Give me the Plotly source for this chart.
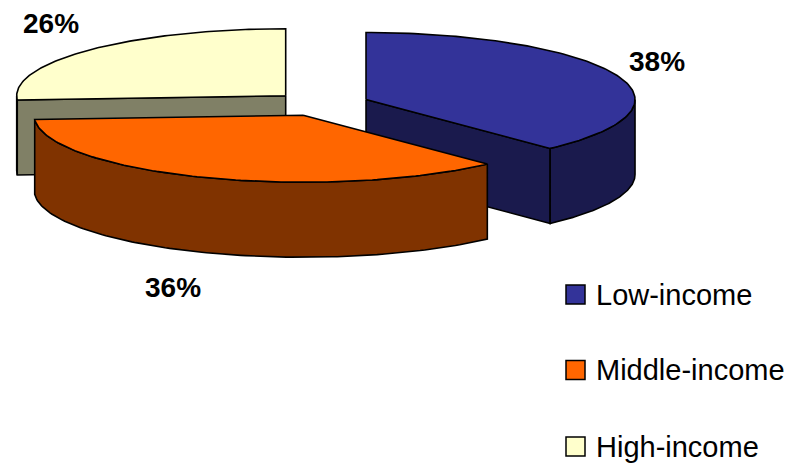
import numpy as np
import plotly.graph_objects as go

# Income group shares (percent)
categories = ["Low-income", "Middle-income", "High-income"]
shares = [38, 36, 26]

# Face colours and darker side colours per slice
top_colors = ["#333399", "#ff6600", "#ffffcc"]
side_colors = ["#1a1a4d", "#803300", "#808066"]

# Pie geometry in pixel-like axis units
CX, CY = 321, 104      # pie centre
RX, RY = 269, 67       # projected ellipse radii
DEPTH = 75             # slab thickness
EXPLODE = 0.18         # explosion as a fraction of radius
W, H = 795, 463

FONT = "Arial, Liberation Sans, sans-serif"


def pt(theta, ox, oy, dz=0.0):
    t = np.radians(theta)
    return ox + RX * np.sin(t), oy - RY * np.cos(t) + dz


def arc(a0, a1, ox, oy, dz=0.0, n=120):
    th = np.linspace(a0, a1, n)
    return pt(th, ox, oy, dz)


fig = go.Figure()


def poly(xs, ys, color):
    fig.add_trace(go.Scatter(
        x=list(xs), y=list(ys), mode="lines", fill="toself",
        fillcolor=color, line=dict(color="black", width=1.6),
        hoverinfo="skip", showlegend=False))


# Slice angles measured clockwise from 12 o'clock
total = float(sum(shares))
bounds = []
start = 0.0
for s in shares:
    end = start + 360.0 * s / total
    bounds.append((start, end))
    start = end

slices = []
for i, (a0, a1) in enumerate(bounds):
    b = np.radians((a0 + a1) / 2)
    ox = CX + EXPLODE * RX * np.sin(b)
    oy = CY - EXPLODE * RY * np.cos(b)
    slices.append(dict(i=i, a0=a0, a1=a1, ox=ox, oy=oy, depth_key=np.cos(b)))

# Paint from the back of the pie to the front
for s in sorted(slices, key=lambda d: -d["depth_key"]):
    i, a0, a1, ox, oy = s["i"], s["a0"], s["a1"], s["ox"], s["oy"]
    side = side_colors[i]
    # radial wall at the starting edge
    if np.cos(np.radians(a0 - 90)) < -1e-9:
        x1, y1 = pt(a0, ox, oy)
        poly([ox, x1, x1, ox, ox], [oy, y1, y1 + DEPTH, oy + DEPTH, oy], side)
    # radial wall at the ending edge
    if np.cos(np.radians(a1 + 90)) < -1e-9:
        x1, y1 = pt(a1, ox, oy)
        poly([ox, x1, x1, ox, ox], [oy, y1, y1 + DEPTH, oy + DEPTH, oy], side)
    # front-facing part of the rim
    lo, hi = max(a0, 90.0), min(a1, 270.0)
    if hi > lo:
        tx, ty = arc(lo, hi, ox, oy)
        bx, by = arc(hi, lo, ox, oy, DEPTH)
        poly(np.concatenate([tx, bx, tx[:1]]), np.concatenate([ty, by, ty[:1]]), side)
    # top face
    tx, ty = arc(a0, a1, ox, oy)
    poly(np.concatenate([[ox], tx, [ox]]), np.concatenate([[oy], ty, [oy]]), top_colors[i])

# Percentage labels
label_pos = [(657, 61), (173, 287), (51, 23)]
annotations = []
for i, s in enumerate(shares):
    lx, ly = label_pos[i]
    annotations.append(dict(
        x=lx, y=ly, xref="x", yref="y", text=f"<b>{s}%</b>", showarrow=False,
        xanchor="center", yanchor="middle",
        font=dict(family=FONT, size=28, color="black")))

# Legend: keys and names
legend_rows = [294.5, 370, 446.5]
shapes = []
for i, name in enumerate(categories):
    yc = legend_rows[i]
    shapes.append(dict(type="rect", xref="x", yref="y", x0=566, x1=585,
                       y0=yc - 9.5, y1=yc + 9.5, fillcolor=top_colors[i],
                       line=dict(color="black", width=1.5)))
    annotations.append(dict(
        x=594, y=yc, xref="x", yref="y", text=name, showarrow=False,
        xanchor="left", yanchor="middle",
        font=dict(family=FONT, size=29, color="black")))

fig.update_layout(
    width=W, height=H,
    margin=dict(l=0, r=0, t=0, b=0),
    paper_bgcolor="white", plot_bgcolor="white",
    xaxis=dict(range=[0, W], visible=False, fixedrange=True),
    yaxis=dict(range=[H, 0], visible=False, fixedrange=True),
    annotations=annotations, shapes=shapes,
    showlegend=False,
)

fig.write_html("out.html")
